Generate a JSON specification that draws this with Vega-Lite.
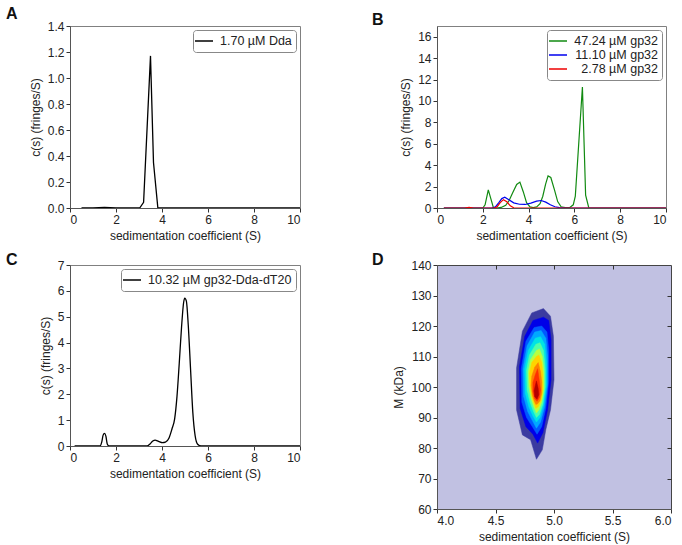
{
  "$schema": "https://vega.github.io/schema/vega-lite/v6.json",
  "padding": {"left": 5, "top": 5, "right": 0, "bottom": 5},
  "config": {
    "font": "Liberation Sans",
    "view": {"stroke": "#808080"},
    "axis": {"labelFont": "Liberation Sans", "titleFont": "Liberation Sans", "labelFontSize": 12, "titleFontSize": 12, "titleFontWeight": "normal", "labelColor": "#222", "titleColor": "#222", "grid": false, "domainColor": "#555", "tickColor": "#333", "tickSize": 4, "labelPadding": 2, "titlePadding": 5},
    "legend": {"labelFont": "Liberation Sans", "labelFontSize": 12.5, "labelColor": "#222", "strokeColor": "#888", "fillColor": "white", "padding": 4, "cornerRadius": 3, "symbolType": "M-1.5,0H1.5", "symbolSize": 144, "symbolStrokeWidth": 1.5, "rowPadding": 0, "offset": 4, "labelOffset": 9},
    "title": {"fontSize": 16, "fontWeight": "bold", "anchor": "start", "frame": "group", "color": "#111", "font": "Liberation Sans"}
  },
  "datasets": {
    "a": [
      {"series": "1.70 µM Dda", "s": 0.5, "c": 0},
      {"series": "1.70 µM Dda", "s": 1.0, "c": 0},
      {"series": "1.70 µM Dda", "s": 1.5, "c": 0.005},
      {"series": "1.70 µM Dda", "s": 2.0, "c": 0},
      {"series": "1.70 µM Dda", "s": 2.5, "c": 0},
      {"series": "1.70 µM Dda", "s": 3.03, "c": 0},
      {"series": "1.70 µM Dda", "s": 3.2, "c": 0.044},
      {"series": "1.70 µM Dda", "s": 3.5, "c": 1.17},
      {"series": "1.70 µM Dda", "s": 3.63, "c": 0.35},
      {"series": "1.70 µM Dda", "s": 3.82, "c": 0},
      {"series": "1.70 µM Dda", "s": 4.0, "c": 0},
      {"series": "1.70 µM Dda", "s": 6.0, "c": 0},
      {"series": "1.70 µM Dda", "s": 8.0, "c": 0},
      {"series": "1.70 µM Dda", "s": 10.0, "c": 0}
    ],
    "b": [
      {"series": "47.24 µM gp32", "s": 0.3, "c": 0},
      {"series": "47.24 µM gp32", "s": 1.0, "c": 0},
      {"series": "47.24 µM gp32", "s": 2.0, "c": 0},
      {"series": "47.24 µM gp32", "s": 2.1, "c": 0.3},
      {"series": "47.24 µM gp32", "s": 2.24, "c": 1.7},
      {"series": "47.24 µM gp32", "s": 2.36, "c": 0.8},
      {"series": "47.24 µM gp32", "s": 2.46, "c": 0.05},
      {"series": "47.24 µM gp32", "s": 2.6, "c": 0},
      {"series": "47.24 µM gp32", "s": 2.8, "c": 0.05},
      {"series": "47.24 µM gp32", "s": 3.0, "c": 0.25},
      {"series": "47.24 µM gp32", "s": 3.15, "c": 0.7},
      {"series": "47.24 µM gp32", "s": 3.3, "c": 1.4},
      {"series": "47.24 µM gp32", "s": 3.48, "c": 2.2},
      {"series": "47.24 µM gp32", "s": 3.62, "c": 2.42},
      {"series": "47.24 µM gp32", "s": 3.77, "c": 1.5},
      {"series": "47.24 µM gp32", "s": 3.91, "c": 0.5},
      {"series": "47.24 µM gp32", "s": 4.06, "c": 0.1},
      {"series": "47.24 µM gp32", "s": 4.2, "c": 0.04},
      {"series": "47.24 µM gp32", "s": 4.35, "c": 0.1},
      {"series": "47.24 µM gp32", "s": 4.5, "c": 0.4},
      {"series": "47.24 µM gp32", "s": 4.62, "c": 1.1},
      {"series": "47.24 µM gp32", "s": 4.74, "c": 2.2},
      {"series": "47.24 µM gp32", "s": 4.85, "c": 3.0},
      {"series": "47.24 µM gp32", "s": 4.97, "c": 2.85},
      {"series": "47.24 µM gp32", "s": 5.13, "c": 1.7},
      {"series": "47.24 µM gp32", "s": 5.27, "c": 0.6},
      {"series": "47.24 µM gp32", "s": 5.42, "c": 0.12},
      {"series": "47.24 µM gp32", "s": 5.6, "c": 0.03},
      {"series": "47.24 µM gp32", "s": 5.8, "c": 0.05},
      {"series": "47.24 µM gp32", "s": 5.95, "c": 0.3},
      {"series": "47.24 µM gp32", "s": 6.04, "c": 1.1},
      {"series": "47.24 µM gp32", "s": 6.35, "c": 11.3},
      {"series": "47.24 µM gp32", "s": 6.49, "c": 1.2},
      {"series": "47.24 µM gp32", "s": 6.63, "c": 0},
      {"series": "47.24 µM gp32", "s": 8.0, "c": 0},
      {"series": "47.24 µM gp32", "s": 10.0, "c": 0},
      {"series": "11.10 µM gp32", "s": 0.3, "c": 0},
      {"series": "11.10 µM gp32", "s": 2.0, "c": 0},
      {"series": "11.10 µM gp32", "s": 2.4, "c": 0},
      {"series": "11.10 µM gp32", "s": 2.55, "c": 0.1},
      {"series": "11.10 µM gp32", "s": 2.7, "c": 0.5},
      {"series": "11.10 µM gp32", "s": 2.83, "c": 0.88},
      {"series": "11.10 µM gp32", "s": 2.96, "c": 1.0},
      {"series": "11.10 µM gp32", "s": 3.12, "c": 0.8},
      {"series": "11.10 µM gp32", "s": 3.35, "c": 0.48},
      {"series": "11.10 µM gp32", "s": 3.6, "c": 0.35},
      {"series": "11.10 µM gp32", "s": 3.85, "c": 0.33},
      {"series": "11.10 µM gp32", "s": 4.1, "c": 0.45},
      {"series": "11.10 µM gp32", "s": 4.35, "c": 0.64},
      {"series": "11.10 µM gp32", "s": 4.55, "c": 0.7},
      {"series": "11.10 µM gp32", "s": 4.75, "c": 0.55},
      {"series": "11.10 µM gp32", "s": 4.95, "c": 0.3},
      {"series": "11.10 µM gp32", "s": 5.15, "c": 0.12},
      {"series": "11.10 µM gp32", "s": 5.35, "c": 0.03},
      {"series": "11.10 µM gp32", "s": 5.6, "c": 0},
      {"series": "11.10 µM gp32", "s": 8.0, "c": 0},
      {"series": "11.10 µM gp32", "s": 10.0, "c": 0},
      {"series": "2.78 µM gp32", "s": 0.3, "c": 0},
      {"series": "2.78 µM gp32", "s": 1.2, "c": 0},
      {"series": "2.78 µM gp32", "s": 1.4, "c": 0.06},
      {"series": "2.78 µM gp32", "s": 1.6, "c": 0},
      {"series": "2.78 µM gp32", "s": 2.5, "c": 0},
      {"series": "2.78 µM gp32", "s": 2.62, "c": 0.1},
      {"series": "2.78 µM gp32", "s": 2.76, "c": 0.5},
      {"series": "2.78 µM gp32", "s": 2.9, "c": 0.78},
      {"series": "2.78 µM gp32", "s": 3.05, "c": 0.58},
      {"series": "2.78 µM gp32", "s": 3.2, "c": 0.2},
      {"series": "2.78 µM gp32", "s": 3.35, "c": 0.02},
      {"series": "2.78 µM gp32", "s": 3.5, "c": 0},
      {"series": "2.78 µM gp32", "s": 8.0, "c": 0},
      {"series": "2.78 µM gp32", "s": 10.0, "c": 0}
    ],
    "c": [
      {"series": "10.32 µM gp32-Dda-dT20", "s": 0.2, "c": 0},
      {"series": "10.32 µM gp32-Dda-dT20", "s": 1.0, "c": 0},
      {"series": "10.32 µM gp32-Dda-dT20", "s": 1.3, "c": 0},
      {"series": "10.32 µM gp32-Dda-dT20", "s": 1.38, "c": 0.15},
      {"series": "10.32 µM gp32-Dda-dT20", "s": 1.44, "c": 0.42},
      {"series": "10.32 µM gp32-Dda-dT20", "s": 1.5, "c": 0.49},
      {"series": "10.32 µM gp32-Dda-dT20", "s": 1.56, "c": 0.38},
      {"series": "10.32 µM gp32-Dda-dT20", "s": 1.62, "c": 0.08},
      {"series": "10.32 µM gp32-Dda-dT20", "s": 1.7, "c": 0},
      {"series": "10.32 µM gp32-Dda-dT20", "s": 2.5, "c": 0},
      {"series": "10.32 µM gp32-Dda-dT20", "s": 3.35, "c": 0},
      {"series": "10.32 µM gp32-Dda-dT20", "s": 3.48, "c": 0.08},
      {"series": "10.32 µM gp32-Dda-dT20", "s": 3.6, "c": 0.19},
      {"series": "10.32 µM gp32-Dda-dT20", "s": 3.7, "c": 0.23},
      {"series": "10.32 µM gp32-Dda-dT20", "s": 3.85, "c": 0.18},
      {"series": "10.32 µM gp32-Dda-dT20", "s": 4.02, "c": 0.13},
      {"series": "10.32 µM gp32-Dda-dT20", "s": 4.15, "c": 0.15},
      {"series": "10.32 µM gp32-Dda-dT20", "s": 4.3, "c": 0.3},
      {"series": "10.32 µM gp32-Dda-dT20", "s": 4.43, "c": 0.65},
      {"series": "10.32 µM gp32-Dda-dT20", "s": 4.55, "c": 1.05},
      {"series": "10.32 µM gp32-Dda-dT20", "s": 4.65, "c": 1.9},
      {"series": "10.32 µM gp32-Dda-dT20", "s": 4.75, "c": 3.2},
      {"series": "10.32 µM gp32-Dda-dT20", "s": 4.85, "c": 4.6},
      {"series": "10.32 µM gp32-Dda-dT20", "s": 4.94, "c": 5.55},
      {"series": "10.32 µM gp32-Dda-dT20", "s": 4.99, "c": 5.72},
      {"series": "10.32 µM gp32-Dda-dT20", "s": 5.06, "c": 5.6},
      {"series": "10.32 µM gp32-Dda-dT20", "s": 5.14, "c": 4.7},
      {"series": "10.32 µM gp32-Dda-dT20", "s": 5.24, "c": 3.0},
      {"series": "10.32 µM gp32-Dda-dT20", "s": 5.34, "c": 1.3},
      {"series": "10.32 µM gp32-Dda-dT20", "s": 5.44, "c": 0.4},
      {"series": "10.32 µM gp32-Dda-dT20", "s": 5.55, "c": 0.07},
      {"series": "10.32 µM gp32-Dda-dT20", "s": 5.7, "c": 0},
      {"series": "10.32 µM gp32-Dda-dT20", "s": 7.0, "c": 0},
      {"series": "10.32 µM gp32-Dda-dT20", "s": 10.0, "c": 0}
    ],
    "d": [
      {"k": 1, "i": 0, "s": 4.91, "m": 125.7}, {"k": 1, "i": 1, "s": 4.97, "m": 123.2}, {"k": 1, "i": 2, "s": 4.995, "m": 116.6}, {"k": 1, "i": 3, "s": 5.0, "m": 102.4}, {"k": 1, "i": 4, "s": 4.97, "m": 92.5}, {"k": 1, "i": 5, "s": 4.93, "m": 86.0}, {"k": 1, "i": 6, "s": 4.9, "m": 79.4}, {"k": 1, "i": 7, "s": 4.85, "m": 76.3}, {"k": 1, "i": 8, "s": 4.8, "m": 82.7}, {"k": 1, "i": 9, "s": 4.73, "m": 84.3}, {"k": 1, "i": 10, "s": 4.68, "m": 92.5}, {"k": 1, "i": 11, "s": 4.68, "m": 106.2}, {"k": 1, "i": 12, "s": 4.73, "m": 118.3}, {"k": 1, "i": 13, "s": 4.81, "m": 124.3},
      {"k": 2, "i": 0, "s": 4.91, "m": 122.9}, {"k": 2, "i": 1, "s": 4.955, "m": 121.8}, {"k": 2, "i": 2, "s": 4.975, "m": 115.5}, {"k": 2, "i": 3, "s": 4.975, "m": 102.4}, {"k": 2, "i": 4, "s": 4.945, "m": 92.5}, {"k": 2, "i": 5, "s": 4.905, "m": 85.0}, {"k": 2, "i": 6, "s": 4.86, "m": 81.6}, {"k": 2, "i": 7, "s": 4.82, "m": 84.5}, {"k": 2, "i": 8, "s": 4.76, "m": 87.0}, {"k": 2, "i": 9, "s": 4.71, "m": 93.0}, {"k": 2, "i": 10, "s": 4.705, "m": 106.8}, {"k": 2, "i": 11, "s": 4.75, "m": 116.6}, {"k": 2, "i": 12, "s": 4.82, "m": 121.8},
      {"k": 3, "i": 0, "s": 4.895, "m": 120}, {"k": 3, "i": 1, "s": 4.94, "m": 118}, {"k": 3, "i": 2, "s": 4.955, "m": 112}, {"k": 3, "i": 3, "s": 4.955, "m": 102}, {"k": 3, "i": 4, "s": 4.93, "m": 93}, {"k": 3, "i": 5, "s": 4.895, "m": 87}, {"k": 3, "i": 6, "s": 4.855, "m": 84.5}, {"k": 3, "i": 7, "s": 4.815, "m": 87}, {"k": 3, "i": 8, "s": 4.765, "m": 90}, {"k": 3, "i": 9, "s": 4.725, "m": 95}, {"k": 3, "i": 10, "s": 4.72, "m": 106}, {"k": 3, "i": 11, "s": 4.76, "m": 115}, {"k": 3, "i": 12, "s": 4.83, "m": 119.5},
      {"k": 4, "i": 0, "s": 4.89, "m": 118.5}, {"k": 4, "i": 1, "s": 4.93, "m": 116}, {"k": 4, "i": 2, "s": 4.945, "m": 110}, {"k": 4, "i": 3, "s": 4.945, "m": 101}, {"k": 4, "i": 4, "s": 4.92, "m": 93.5}, {"k": 4, "i": 5, "s": 4.885, "m": 88.5}, {"k": 4, "i": 6, "s": 4.85, "m": 86.5}, {"k": 4, "i": 7, "s": 4.815, "m": 89}, {"k": 4, "i": 8, "s": 4.775, "m": 92}, {"k": 4, "i": 9, "s": 4.74, "m": 97}, {"k": 4, "i": 10, "s": 4.735, "m": 106}, {"k": 4, "i": 11, "s": 4.77, "m": 113.5}, {"k": 4, "i": 12, "s": 4.835, "m": 118},
      {"k": 5, "i": 0, "s": 4.885, "m": 116.5}, {"k": 5, "i": 1, "s": 4.92, "m": 114}, {"k": 5, "i": 2, "s": 4.935, "m": 108}, {"k": 5, "i": 3, "s": 4.935, "m": 100.5}, {"k": 5, "i": 4, "s": 4.91, "m": 94}, {"k": 5, "i": 5, "s": 4.88, "m": 90}, {"k": 5, "i": 6, "s": 4.85, "m": 88.5}, {"k": 5, "i": 7, "s": 4.82, "m": 90.5}, {"k": 5, "i": 8, "s": 4.785, "m": 93.5}, {"k": 5, "i": 9, "s": 4.755, "m": 98}, {"k": 5, "i": 10, "s": 4.75, "m": 106}, {"k": 5, "i": 11, "s": 4.78, "m": 112}, {"k": 5, "i": 12, "s": 4.84, "m": 116},
      {"k": 6, "i": 0, "s": 4.88, "m": 114.5}, {"k": 6, "i": 1, "s": 4.91, "m": 112}, {"k": 6, "i": 2, "s": 4.925, "m": 106}, {"k": 6, "i": 3, "s": 4.925, "m": 100}, {"k": 6, "i": 4, "s": 4.905, "m": 94.5}, {"k": 6, "i": 5, "s": 4.875, "m": 91}, {"k": 6, "i": 6, "s": 4.85, "m": 90}, {"k": 6, "i": 7, "s": 4.825, "m": 92}, {"k": 6, "i": 8, "s": 4.795, "m": 95}, {"k": 6, "i": 9, "s": 4.77, "m": 99}, {"k": 6, "i": 10, "s": 4.765, "m": 105.5}, {"k": 6, "i": 11, "s": 4.79, "m": 110.5}, {"k": 6, "i": 12, "s": 4.845, "m": 114},
      {"k": 7, "i": 0, "s": 4.875, "m": 112.5}, {"k": 7, "i": 1, "s": 4.9, "m": 110}, {"k": 7, "i": 2, "s": 4.915, "m": 105}, {"k": 7, "i": 3, "s": 4.915, "m": 99.5}, {"k": 7, "i": 4, "s": 4.895, "m": 95}, {"k": 7, "i": 5, "s": 4.87, "m": 92.5}, {"k": 7, "i": 6, "s": 4.85, "m": 91.5}, {"k": 7, "i": 7, "s": 4.83, "m": 93.2}, {"k": 7, "i": 8, "s": 4.805, "m": 96}, {"k": 7, "i": 9, "s": 4.785, "m": 100}, {"k": 7, "i": 10, "s": 4.78, "m": 105}, {"k": 7, "i": 11, "s": 4.8, "m": 109}, {"k": 7, "i": 12, "s": 4.85, "m": 112},
      {"k": 8, "i": 0, "s": 4.87, "m": 110.5}, {"k": 8, "i": 1, "s": 4.895, "m": 108}, {"k": 8, "i": 2, "s": 4.905, "m": 104}, {"k": 8, "i": 3, "s": 4.905, "m": 99}, {"k": 8, "i": 4, "s": 4.89, "m": 95.5}, {"k": 8, "i": 5, "s": 4.865, "m": 93.5}, {"k": 8, "i": 6, "s": 4.845, "m": 93}, {"k": 8, "i": 7, "s": 4.83, "m": 94.5}, {"k": 8, "i": 8, "s": 4.81, "m": 97}, {"k": 8, "i": 9, "s": 4.795, "m": 100.5}, {"k": 8, "i": 10, "s": 4.79, "m": 104.5}, {"k": 8, "i": 11, "s": 4.81, "m": 108}, {"k": 8, "i": 12, "s": 4.85, "m": 110},
      {"k": 9, "i": 0, "s": 4.865, "m": 108}, {"k": 9, "i": 1, "s": 4.885, "m": 105}, {"k": 9, "i": 2, "s": 4.895, "m": 101.5}, {"k": 9, "i": 3, "s": 4.895, "m": 98}, {"k": 9, "i": 4, "s": 4.88, "m": 95.5}, {"k": 9, "i": 5, "s": 4.86, "m": 94.5}, {"k": 9, "i": 6, "s": 4.845, "m": 94.3}, {"k": 9, "i": 7, "s": 4.83, "m": 95.5}, {"k": 9, "i": 8, "s": 4.815, "m": 97.5}, {"k": 9, "i": 9, "s": 4.805, "m": 100.5}, {"k": 9, "i": 10, "s": 4.81, "m": 103.5}, {"k": 9, "i": 11, "s": 4.835, "m": 106.5},
      {"k": 10, "i": 0, "s": 4.86, "m": 106}, {"k": 10, "i": 1, "s": 4.875, "m": 102}, {"k": 10, "i": 2, "s": 4.885, "m": 99}, {"k": 10, "i": 3, "s": 4.875, "m": 96.5}, {"k": 10, "i": 4, "s": 4.855, "m": 95.3}, {"k": 10, "i": 5, "s": 4.835, "m": 96.2}, {"k": 10, "i": 6, "s": 4.82, "m": 98.5}, {"k": 10, "i": 7, "s": 4.82, "m": 101.5}, {"k": 10, "i": 8, "s": 4.84, "m": 104},
      {"k": 11, "i": 0, "s": 4.85, "m": 102}, {"k": 11, "i": 1, "s": 4.865, "m": 99.5}, {"k": 11, "i": 2, "s": 4.87, "m": 97.5}, {"k": 11, "i": 3, "s": 4.855, "m": 96}, {"k": 11, "i": 4, "s": 4.835, "m": 96.8}, {"k": 11, "i": 5, "s": 4.83, "m": 98.8}, {"k": 11, "i": 6, "s": 4.84, "m": 100.5}
    ]
  },
  "resolve": {"scale": {"x": "independent", "y": "independent", "color": "independent"}},
  "vconcat": [
    {
      "resolve": {"scale": {"x": "independent", "y": "independent", "color": "independent"}},
      "hconcat": [
        {
          "title": {"text": "A", "dx": -64, "offset": -2},
          "width": 230, "height": 182,
          "data": {"name": "a"},
          "mark": {"type": "line", "strokeWidth": 1.3, "clip": true},
          "encoding": {
            "x": {"field": "s", "type": "quantitative", "scale": {"domain": [0, 10]}, "axis": {"title": "sedimentation coefficient (S)", "values": [0, 2, 4, 6, 8, 10]}},
            "y": {"field": "c", "type": "quantitative", "scale": {"domain": [0, 1.4]}, "axis": {"title": "c(s) (fringes/S)", "values": [0, 0.2, 0.4, 0.6, 0.8, 1.0, 1.2, 1.4], "format": ".1f"}},
            "color": {"field": "series", "type": "nominal", "scale": {"range": ["black"]}, "legend": {"orient": "top-right", "title": null}}
          }
        },
        {
          "title": {"text": "B", "dx": -65, "offset": -2},
          "width": 229, "height": 182,
          "data": {"name": "b"},
          "mark": {"type": "line", "strokeWidth": 1.2, "clip": true},
          "encoding": {
            "x": {"field": "s", "type": "quantitative", "scale": {"domain": [0, 10]}, "axis": {"title": "sedimentation coefficient (S)", "values": [0, 2, 4, 6, 8, 10]}},
            "y": {"field": "c", "type": "quantitative", "scale": {"domain": [0, 17]}, "axis": {"title": "c(s) (fringes/S)", "values": [0, 2, 4, 6, 8, 10, 12, 14, 16]}},
            "color": {"field": "series", "type": "nominal", "scale": {"domain": ["47.24 µM gp32", "11.10 µM gp32", "2.78 µM gp32"], "range": ["#118a11", "#0000ee", "#ee0000"]}, "legend": {"orient": "top-right", "title": null, "labelAlign": "right", "labelOffset": 93}}
          }
        }
      ],
      "spacing": 70
    },
    {
      "resolve": {"scale": {"x": "independent", "y": "independent", "color": "independent"}},
      "hconcat": [
        {
          "title": {"text": "C", "dx": -64, "offset": -9},
          "width": 230, "height": 181,
          "data": {"name": "c"},
          "mark": {"type": "line", "strokeWidth": 1.3, "clip": true, "interpolate": "monotone"},
          "encoding": {
            "x": {"field": "s", "type": "quantitative", "scale": {"domain": [0, 10]}, "axis": {"title": "sedimentation coefficient (S)", "values": [0, 2, 4, 6, 8, 10]}},
            "y": {"field": "c", "type": "quantitative", "scale": {"domain": [0, 7]}, "axis": {"title": "c(s) (fringes/S)", "values": [0, 1, 2, 3, 4, 5, 6, 7]}},
            "color": {"field": "series", "type": "nominal", "scale": {"range": ["black"]}, "legend": {"orient": "top-right", "title": null}}
          }
        },
        {
          "title": {"text": "D", "dx": -65, "offset": -9},
          "width": 234, "height": 244,
          "data": {"name": "d"},
          "view": {"fill": "#c1c1e2", "stroke": "#444"},
          "layer": [
            {
              "mark": {"type": "line", "filled": true, "interpolate": "linear-closed", "strokeWidth": 0.5, "clip": true},
              "encoding": {
                "x": {"field": "s", "type": "quantitative", "scale": {"domain": [4, 6]}, "axis": {"title": "sedimentation coefficient (S)", "values": [4, 4.5, 5, 5.5, 6], "format": ".1f"}},
                "y": {"field": "m", "type": "quantitative", "scale": {"domain": [60, 140]}, "axis": {"title": "M (kDa)", "values": [60, 70, 80, 90, 100, 110, 120, 130, 140]}},
                "detail": {"field": "k", "type": "ordinal"},
                "order": {"field": "i", "type": "quantitative"},
                "fill": {"field": "k", "type": "ordinal", "scale": {"domain": [1, 2, 3, 4, 5, 6, 7, 8, 9, 10, 11], "range": ["#3b3ba0", "#0000e8", "#0058ff", "#00a8ff", "#00e4e4", "#50ffa8", "#b8ff40", "#ffd400", "#ff8000", "#ff3000", "#b40000"]}, "legend": null},
                "stroke": {"field": "k", "type": "ordinal", "scale": {"domain": [1, 2, 3, 4, 5, 6, 7, 8, 9, 10, 11], "range": ["#3b3ba0", "#0000e8", "#0058ff", "#00a8ff", "#00e4e4", "#50ffa8", "#b8ff40", "#ffd400", "#ff8000", "#ff3000", "#b40000"]}, "legend": null}
              }
            },
            {
              "mark": {"type": "point", "opacity": 0},
              "encoding": {
                "x": {"field": "s", "type": "quantitative", "axis": {"orient": "top", "title": null, "labels": false, "domain": false, "values": [4.5, 5, 5.5], "tickSize": -4}},
                "y": {"field": "m", "type": "quantitative", "axis": {"orient": "right", "title": null, "labels": false, "domain": false, "values": [70, 80, 90, 100, 110, 120, 130], "tickSize": -4}}
              }
            }
          ],
          "resolve": {"axis": {"x": "independent", "y": "independent"}}
        }
      ],
      "spacing": 70
    }
  ],
  "spacing": 9
}
